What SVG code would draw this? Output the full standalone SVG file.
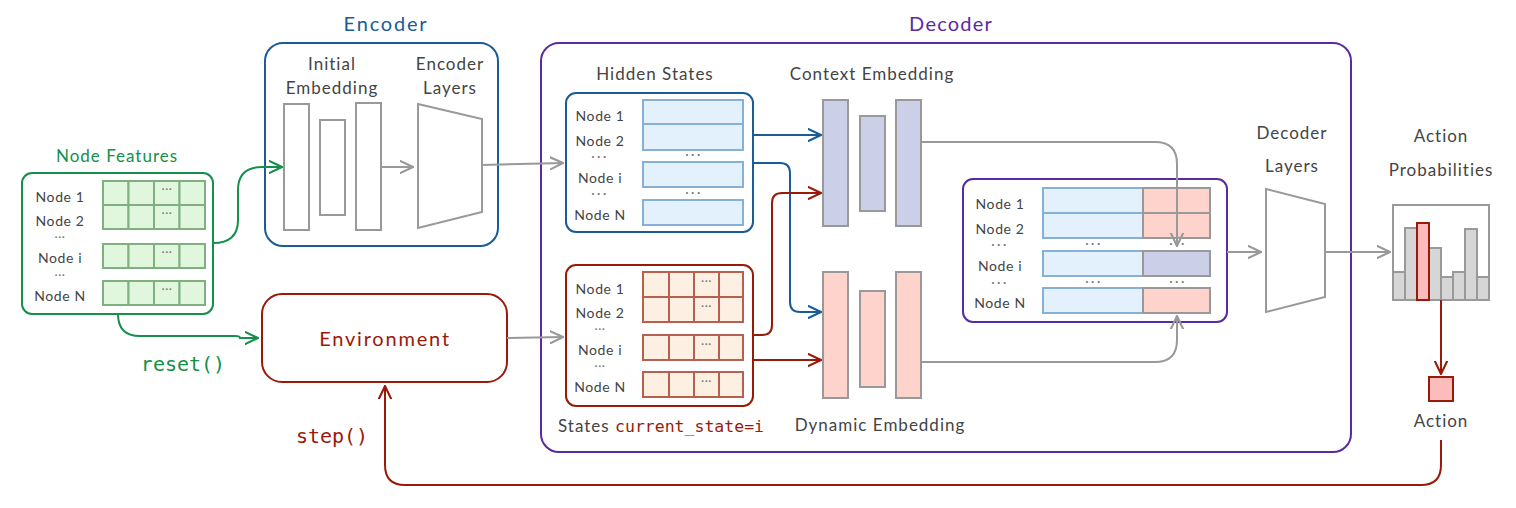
<svg xmlns="http://www.w3.org/2000/svg" width="1516" height="508" viewBox="0 0 1516 508">
<defs>
<style>
text{font-family:Lato,"Open Sans","DejaVu Sans",sans-serif;fill:#444}
.lbl{font-size:14px;text-anchor:middle;letter-spacing:0.6px}
.ttl{font-size:17px;text-anchor:middle;letter-spacing:1px}
.mono{font-family:"DejaVu Sans Mono","Liberation Mono",monospace;letter-spacing:0}
.dots{font-size:13px;text-anchor:middle;fill:#777;letter-spacing:2.5px}
.cd{font-size:12px;text-anchor:middle;fill:#777;letter-spacing:0.5px}
.gcell{fill:#e0f7de;stroke:#80b080;stroke-width:2}
.bcell{fill:#e3f1fc;stroke:#86b0d6;stroke-width:2}
.rcell{fill:#fdf0e3;stroke:#b8604f;stroke-width:2}
.pcell{fill:#fdd3cc;stroke:#999;stroke-width:2}
.vcell{fill:#cbd0e8;stroke:#999;stroke-width:2}
.emb{fill:#fff;stroke:#999;stroke-width:2}
.g{fill:none;stroke:#999;stroke-width:2}
.blue{fill:none;stroke:#1a5c98;stroke-width:2}
.red{fill:none;stroke:#9a1a0a;stroke-width:2}
.green{fill:none;stroke:#14904a;stroke-width:2}
.purple{fill:none;stroke:#5a2ba0;stroke-width:2}
</style>
<marker id="ag" viewBox="0 0 10 10" refX="9.5" refY="5" markerWidth="14" markerHeight="14" markerUnits="userSpaceOnUse" orient="auto"><path d="M0,0.5 L9.5,5 L0,9.5" fill="none" stroke="#999" stroke-width="1.5"/></marker>
<marker id="ab" viewBox="0 0 10 10" refX="9.5" refY="5" markerWidth="14" markerHeight="14" markerUnits="userSpaceOnUse" orient="auto"><path d="M0,0.5 L9.5,5 L0,9.5" fill="none" stroke="#1a5c98" stroke-width="1.5"/></marker>
<marker id="ar" viewBox="0 0 10 10" refX="9.5" refY="5" markerWidth="14" markerHeight="14" markerUnits="userSpaceOnUse" orient="auto"><path d="M0,0.5 L9.5,5 L0,9.5" fill="none" stroke="#9a1a0a" stroke-width="1.5"/></marker>
<marker id="agr" viewBox="0 0 10 10" refX="9.5" refY="5" markerWidth="14" markerHeight="14" markerUnits="userSpaceOnUse" orient="auto"><path d="M0,0.5 L9.5,5 L0,9.5" fill="none" stroke="#14904a" stroke-width="1.5"/></marker>
</defs>
<rect width="1516" height="508" fill="#fff"/>

<!-- Decoder outer -->
<g id="decoder">
<rect x="541" y="43" width="810" height="409" rx="18" class="purple"/>
<text x="951" y="31" style="font-size:20px;text-anchor:middle;fill:#5a2ba0;letter-spacing:1.2px">Decoder</text>
</g>

<!-- Node Features -->
<g id="node-features">
<text x="117" y="162" class="ttl" style="fill:#14904a">Node Features</text>
<rect x="22" y="173" width="191" height="141" rx="10" class="green"/>
<text x="60" y="202" class="lbl">Node 1</text>
<text x="60" y="226" class="lbl">Node 2</text>
<text x="60" y="241" class="cd">···</text>
<text x="60" y="263" class="lbl">Node i</text>
<text x="60" y="279" class="cd">···</text>
<text x="60" y="301" class="lbl">Node N</text>
<g>
<rect x="103" y="181" width="25.5" height="24" class="gcell"/><rect x="128.5" y="181" width="25.5" height="24" class="gcell"/><rect x="154" y="181" width="25.5" height="24" class="gcell"/><rect x="179.5" y="181" width="25.5" height="24" class="gcell"/>
<rect x="103" y="205" width="25.5" height="24" class="gcell"/><rect x="128.5" y="205" width="25.5" height="24" class="gcell"/><rect x="154" y="205" width="25.5" height="24" class="gcell"/><rect x="179.5" y="205" width="25.5" height="24" class="gcell"/>
<rect x="103" y="244" width="25.5" height="24" class="gcell"/><rect x="128.5" y="244" width="25.5" height="24" class="gcell"/><rect x="154" y="244" width="25.5" height="24" class="gcell"/><rect x="179.5" y="244" width="25.5" height="24" class="gcell"/>
<rect x="103" y="281" width="25.5" height="24" class="gcell"/><rect x="128.5" y="281" width="25.5" height="24" class="gcell"/><rect x="154" y="281" width="25.5" height="24" class="gcell"/><rect x="179.5" y="281" width="25.5" height="24" class="gcell"/>
<text x="167" y="193" class="cd">···</text><text x="167" y="217" class="cd">···</text><text x="167" y="256" class="cd">···</text><text x="167" y="293" class="cd">···</text>
</g>
</g>

<!-- Encoder -->
<g id="encoder">
<text x="386" y="31" style="font-size:20px;text-anchor:middle;fill:#1a5c98;letter-spacing:1.8px">Encoder</text>
<rect x="265" y="43" width="233" height="203" rx="18" class="blue"/>
<text x="332" y="70" class="ttl">Initial</text>
<text x="332" y="94" class="ttl">Embedding</text>
<text x="450" y="70" class="ttl">Encoder</text>
<text x="450" y="94" class="ttl">Layers</text>
<rect x="284" y="104" width="25" height="126" class="emb"/>
<rect x="320" y="120" width="25" height="95" class="emb"/>
<rect x="356" y="103" width="25" height="127" class="emb"/>
<polygon points="418,104 482,119 482,212 418,228" class="emb"/>
<line x1="381" y1="167" x2="413" y2="167" class="g" marker-end="url(#ag)"/>
</g>

<!-- Environment -->
<g id="environment">
<rect x="262" y="294" width="245" height="88" rx="20" class="red"/>
<text x="385" y="346" style="font-size:20px;text-anchor:middle;fill:#9a1a0a;letter-spacing:1.8px">Environment</text>
</g>

<!-- Hidden States -->
<g id="hidden-states">
<text x="655" y="80" class="ttl">Hidden States</text>
<rect x="566" y="93" width="187" height="139" rx="10" class="blue"/>
<text x="600" y="121" class="lbl">Node 1</text>
<text x="600" y="146" class="lbl">Node 2</text>
<text x="600" y="161" class="dots">···</text>
<text x="600" y="183" class="lbl">Node i</text>
<text x="600" y="198" class="dots">···</text>
<text x="600" y="220" class="lbl">Node N</text>
<rect x="643" y="100" width="100" height="24" class="bcell"/>
<rect x="643" y="124" width="100" height="26" class="bcell"/>
<rect x="643" y="162" width="100" height="25" class="bcell"/>
<rect x="643" y="200" width="100" height="25" class="bcell"/>
<text x="694" y="159" class="dots">···</text>
<text x="694" y="197" class="dots">···</text>
</g>

<!-- States -->
<g id="states">
<rect x="566" y="265" width="187" height="141" rx="10" class="red"/>
<text x="600" y="294" class="lbl">Node 1</text>
<text x="600" y="318" class="lbl">Node 2</text>
<text x="600" y="333" class="cd">···</text>
<text x="600" y="355" class="lbl">Node i</text>
<text x="600" y="370" class="cd">···</text>
<text x="600" y="392" class="lbl">Node N</text>
<rect x="643" y="272" width="26" height="25" class="rcell"/><rect x="669" y="272" width="25" height="25" class="rcell"/><rect x="694" y="272" width="25" height="25" class="rcell"/><rect x="719" y="272" width="24" height="25" class="rcell"/>
<rect x="643" y="297" width="26" height="25" class="rcell"/><rect x="669" y="297" width="25" height="25" class="rcell"/><rect x="694" y="297" width="25" height="25" class="rcell"/><rect x="719" y="297" width="24" height="25" class="rcell"/>
<rect x="643" y="335" width="26" height="25" class="rcell"/><rect x="669" y="335" width="25" height="25" class="rcell"/><rect x="694" y="335" width="25" height="25" class="rcell"/><rect x="719" y="335" width="24" height="25" class="rcell"/>
<rect x="643" y="372" width="26" height="25" class="rcell"/><rect x="669" y="372" width="25" height="25" class="rcell"/><rect x="694" y="372" width="25" height="25" class="rcell"/><rect x="719" y="372" width="24" height="25" class="rcell"/>
<text x="706.5" y="285" class="cd">···</text><text x="706.5" y="310" class="cd">···</text><text x="706.5" y="348" class="cd">···</text><text x="706.5" y="385" class="cd">···</text>
<text x="558" y="432" style="font-size:17px;letter-spacing:1px">States <tspan class="mono" style="font-size:16.5px;fill:#9a1a0a">current_state=i</tspan></text>
</g>

<!-- Context Embedding -->
<g id="context-embedding">
<text x="872" y="80" class="ttl">Context Embedding</text>
<rect x="823" y="100" width="25" height="126" class="vcell"/>
<rect x="860" y="116" width="25" height="95" class="vcell"/>
<rect x="896" y="100" width="25" height="126" class="vcell"/>
</g>

<!-- Dynamic Embedding -->
<g id="dynamic-embedding">
<rect x="823" y="272" width="25" height="126" class="pcell"/>
<rect x="860" y="291" width="25" height="96" class="pcell"/>
<rect x="896" y="272" width="25" height="126" class="pcell"/>
<text x="880" y="431" class="ttl">Dynamic Embedding</text>
</g>

<!-- Decoder table -->
<g id="decoder-table">
<rect x="963" y="179" width="264" height="143" rx="10" class="purple"/>
<text x="1000" y="209" class="lbl">Node 1</text>
<text x="1000" y="234" class="lbl">Node 2</text>
<text x="1000" y="249" class="dots">···</text>
<text x="1000" y="271" class="lbl">Node i</text>
<text x="1000" y="287" class="dots">···</text>
<text x="1000" y="308" class="lbl">Node N</text>
<rect x="1043" y="188" width="100" height="25" class="bcell"/><rect x="1143" y="188" width="67" height="25" class="pcell"/>
<rect x="1043" y="213" width="100" height="25" class="bcell"/><rect x="1143" y="213" width="67" height="25" class="pcell"/>
<rect x="1043" y="251" width="100" height="25" class="bcell"/><rect x="1143" y="251" width="67" height="25" class="vcell"/>
<rect x="1043" y="288" width="100" height="25" class="bcell"/><rect x="1143" y="288" width="67" height="25" class="pcell"/>
<text x="1094" y="248" class="dots">···</text><text x="1178" y="248" class="dots">···</text>
<text x="1094" y="286" class="dots">···</text><text x="1178" y="286" class="dots">···</text>
</g>

<!-- Decoder Layers -->
<g id="decoder-layers">
<text x="1292" y="139" class="ttl">Decoder</text>
<text x="1292" y="172" class="ttl">Layers</text>
<polygon points="1266,189 1325,204 1325,297 1266,312" class="emb"/>
</g>

<!-- Action Probabilities -->
<g id="action-probabilities">
<text x="1441" y="142" class="ttl">Action</text>
<text x="1441" y="176" class="ttl">Probabilities</text>
<rect x="1393" y="205" width="96" height="95" class="emb"/>
<g style="fill:#d6d6d6;stroke:#999;stroke-width:2">
<rect x="1393" y="272" width="12" height="28"/>
<rect x="1405" y="228" width="12" height="72"/>
<rect x="1429" y="248" width="12" height="52"/>
<rect x="1441" y="277" width="12" height="23"/>
<rect x="1453" y="272" width="12" height="28"/>
<rect x="1465" y="229" width="12" height="71"/>
<rect x="1477" y="277" width="12" height="23"/>
</g>
<rect x="1417" y="223" width="12" height="77" style="fill:#fdbcbc;stroke:#9a1a0a;stroke-width:2"/>
</g>

<!-- Action -->
<g id="action">
<rect x="1429" y="377" width="24" height="24" style="fill:#fdbcbc;stroke:#9a1a0a;stroke-width:2"/>
<text x="1441" y="427" class="ttl">Action</text>
</g>

<!-- Connectors -->
<g id="connectors">
<path d="M213,243 Q238,243 238,220 L238,190 Q238,167 262,167 L282,167" class="green" marker-end="url(#agr)"/>
<path d="M118,314 Q118,336 140,336 L235,336 Q240,336 240,338 L258,338" class="green" marker-end="url(#agr)"/>
<text x="183" y="371" class="mono" style="font-size:20px;text-anchor:middle;fill:#14904a">reset()</text>
<path d="M482,165 L563,163" class="g" marker-end="url(#ag)"/>
<path d="M507,338 L563,337" class="g" marker-end="url(#ag)"/>
<path d="M753,135 L821,135" class="blue" marker-end="url(#ab)"/>
<path d="M753,163 L780,163 Q790,163 790,173 L790,302 Q790,312 800,312 L821,312" class="blue" marker-end="url(#ab)"/>
<path d="M753,335 L762,335 Q772,335 772,325 L772,203 Q772,193 782,193 L821,193" class="red" marker-end="url(#ar)"/>
<path d="M753,360 L821,360" class="red" marker-end="url(#ar)"/>
<path d="M921,142 L1155,142 Q1177,142 1177,164 L1177,246" class="g" marker-end="url(#ag)"/>
<path d="M921,362 L1155,362 Q1177,362 1177,340 L1177,316" class="g" marker-end="url(#ag)"/>
<path d="M1227,252 L1261,252" class="g" marker-end="url(#ag)"/>
<path d="M1325,252 L1390,252" class="g" marker-end="url(#ag)"/>
<path d="M1441,300 L1441,374" class="red" marker-end="url(#ar)"/>
<path d="M1441,440 L1441,465 Q1441,485 1421,485 L405,485 Q385,485 385,465 L385,386" class="red" marker-end="url(#ar)"/>
<text x="332" y="443" class="mono" style="font-size:20px;text-anchor:middle;fill:#9a1a0a">step()</text>
</g>
</svg>
